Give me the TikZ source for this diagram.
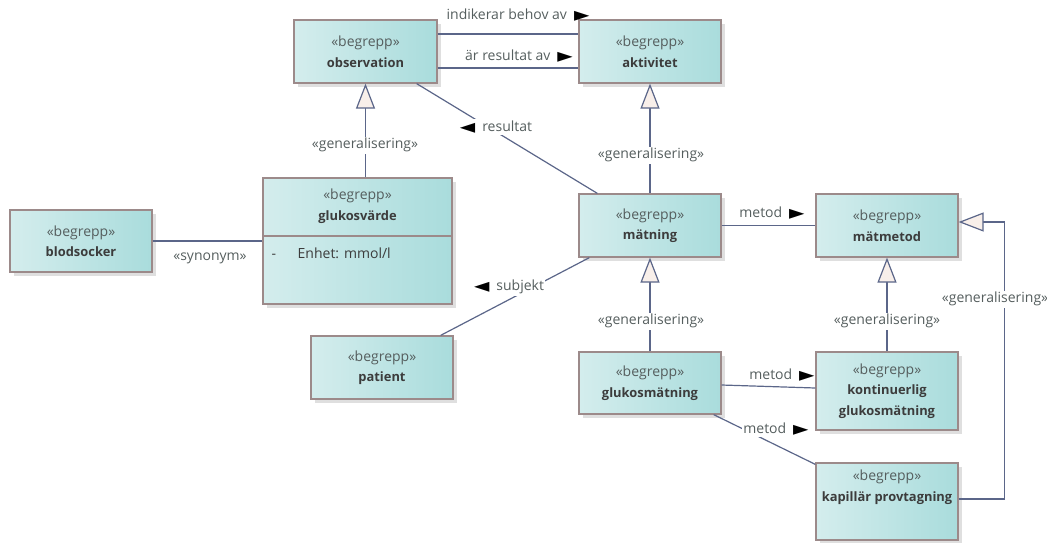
\documentclass[tikz,border=0pt]{standalone}
\usepackage{fontspec}
\setmainfont{Open Sans}
\newfontfamily\symfont{DejaVu Sans}
\usetikzlibrary{arrows.meta,shadows,calc}
\definecolor{boxL}{HTML}{D4EDED}
\definecolor{boxR}{HTML}{A9DCDC}
\definecolor{boxB}{HTML}{9C8A8A}
\definecolor{lineC}{HTML}{5B6689}
\definecolor{txt}{HTML}{3C3C3C}
\definecolor{stx}{HTML}{555E5E}
\definecolor{triF}{HTML}{F8EFEA}
\newcommand{\tri}{\hspace{7pt}\raisebox{-2pt}{\fontsize{20}{20}\symfont\color{black}\char"25BA}}
\newcommand{\trl}{\raisebox{-2pt}{\fontsize{20}{20}\symfont\color{black}\char"25C4}\hspace{7pt}}
\tikzset{
  boxtext/.style={inner sep=0pt, text=txt, align=center, font=\fontsize{14}{20.5}\selectfont},
  umlbox/.style={boxtext, draw=boxB, line width=1.2pt, left color=boxL, right color=boxR,
    drop shadow={shadow xshift=4pt, shadow yshift=-4pt, fill=black!18, opacity=0.7}},
  conn/.style={draw=lineC, line width=1.2pt},
  gen/.style={conn, -{Triangle[length=25pt, width=19pt, fill=triF, line width=1.2pt]}},
  lbl/.style={text=stx, font=\fontsize{14}{16}\selectfont, inner sep=1.5pt},
  wlbl/.style={lbl, fill=white},
}
\newcommand{\nm}[1]{{\fontsize{12.9}{20.5}\selectfont\bfseries #1}}
\newcommand{\bx}[1]{{\color{stx}«begrepp»}\\\nm{#1}}
\begin{document}
\begin{tikzpicture}[x=1pt, y=-1pt]
\useasboundingbox (0,0) rectangle (1047,542);
% boxes
\node[umlbox, minimum width=143pt, minimum height=63pt] (obs) at (365.5,51.5) {\bx{observation}};
\node[umlbox, minimum width=142pt, minimum height=63pt] (akt) at (650,51.5) {\bx{aktivitet}};
\node[umlbox, minimum width=189pt, minimum height=126pt] (gv) at (357.5,241) {};
\node[umlbox, minimum width=142pt, minimum height=62pt] (blod) at (81,241) {\bx{blodsocker}};
\node[umlbox, minimum width=142pt, minimum height=63pt] (pat) at (382,367.5) {\bx{patient}};
\node[umlbox, minimum width=142pt, minimum height=63pt] (mat) at (650,225.5) {\bx{mätning}};
\node[umlbox, minimum width=142pt, minimum height=63pt] (mm) at (887,225.5) {\bx{mätmetod}};
\node[umlbox, minimum width=142pt, minimum height=62pt] (glm) at (650,383) {\bx{glukosmätning}};
\node[umlbox, minimum width=142pt, minimum height=78pt] (kont) at (887,391) {{\color{stx}«begrepp»}\\\nm{kontinuerlig}\\\nm{glukosmätning}};
\node[umlbox, minimum width=142pt, minimum height=77pt] (kap) at (887,501.5) {};
% compartment contents
\node[boxtext] (gvt) at (357.5,206) {\bx{glukosvärde}};
\draw[draw=boxB, line width=1.2pt] (gv.west |- 0,236) -- (gv.east |- 0,236);
\node[lbl, text=txt, anchor=base west] (gvm) at (270,258) {-};
\node[lbl, text=txt, anchor=base west] (gva) at (296,258) {Enhet: mmol/l};
\node[boxtext] (kapt) at (887,487) {\bx{kapillär provtagning}};
% associations
\draw[conn] (obs.north east |- 0,34) -- (akt.north west |- 0,34);
\node[lbl] (l1) at (518,15) {indikerar behov av\tri};
\draw[conn] (obs.north east |- 0,68) -- (akt.north west |- 0,68);
\node[lbl] (l2) at (519,56) {är resultat av\tri};
\draw[conn] ($(obs.south east)+(-21,0)$) -- ($(mat.north west)+(19,0)$);
\node[wlbl] (l3) at (496,127) {\trl resultat};
\draw[conn] (blod.east) -- (gv.west |- blod.east);
\node[lbl] (l4) at (210,258) {«synonym»};
\draw[conn] ($(pat.north east)+(-13,0)$) -- ($(mat.south west)+(11,0)$);
\node[wlbl] (l5) at (509,287) {\trl subjekt};
\draw[conn] (mat.east) -- (mm.west);
\node[lbl] (l6) at (772,213) {metod\tri};
\draw[conn] ($(glm.east)+(0,2)$) -- ($(kont.west)+(0,-3)$);
\node[lbl] (l7) at (782,375) {metod\tri};
\draw[conn] ($(glm.south east)+(-8,0)$) -- ($(kap.north west)+(0,2)$);
\node[wlbl] (l8) at (776,429) {metod\tri};
% generalisations
\draw[gen] (gv.north -| obs.south) -- (obs.south);
\node[wlbl] (g1) at (365,145) {«generalisering»};
\draw[gen] (mat.north) -- (akt.south);
\node[wlbl] (g2) at (651,155) {«generalisering»};
\draw[gen] (glm.north) -- (mat.south);
\node[wlbl] (g3) at (651,321) {«generalisering»};
\draw[gen] (kont.north) -- (mm.south);
\node[wlbl] (g4) at (887,321) {«generalisering»};
\draw[gen] ($(kap.east)+(0,-2.5)$) -- ++(46,0) |- ($(mm.east)+(0,-3.5)$);
\node[wlbl] (g5) at (995,299) {«generalisering»};
\end{tikzpicture}
\end{document}
